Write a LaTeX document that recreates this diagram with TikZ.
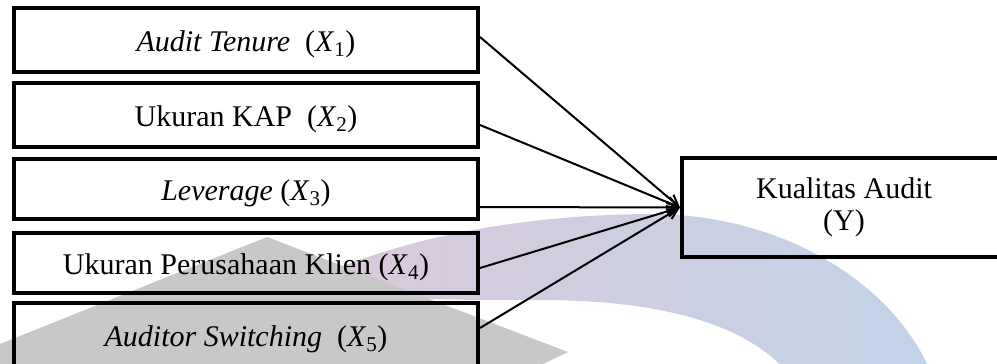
\documentclass[tikz,border=0pt]{standalone}
\usepackage{fontspec}
\setmainfont{Liberation Serif}
\usetikzlibrary{arrows.meta}
\definecolor{wmgray}{RGB}{200,200,200}
\definecolor{wmpink}{RGB}{219,200,218}
\definecolor{wmblue}{RGB}{194,211,232}
\newcommand{\xvar}[1]{\textit{X}\textsubscript{#1}}
\tikzset{
  varbox/.style={draw=black, line width=4pt, minimum width=464pt, inner sep=0pt,
    text height=28pt, text depth=6pt, font=\fontsize{30}{34}\selectfont},
  depbox/.style={draw=black, line width=4pt, minimum width=324pt, minimum height=99pt,
    inner sep=0pt, align=center, font=\fontsize{30}{32}\selectfont},
  link/.style={line width=2pt, -{Straight Barb[length=11pt,width=11pt,line width=2pt]}}
}
\begin{document}
\begin{tikzpicture}[x=1pt,y=-1pt]
\useasboundingbox (0,0) rectangle (997,364);
\clip (0,0) rectangle (997,364);
% faint background emblem
\shade[left color=wmpink, middle color=wmblue!85!wmpink, right color=wmblue]
  (300,285) .. controls (380,245) and (500,215) .. (650,214)
  .. controls (780,214) and (890,280) .. (930,370)
  -- (785,370) .. controls (740,320) and (650,300) .. (540,300)
  .. controls (430,300) and (360,300) .. (300,285) -- cycle;
\fill[wmgray] (0,344) -- (267,237) -- (568,352) -- (530,370) -- (0,370) -- cycle;
% independent variables
\node[varbox, minimum height=64pt] (x1) at (246,40) {\textit{Audit Tenure}\ \ (\xvar{1})};
\node[varbox, minimum height=64pt] (x2) at (246,115) {Ukuran KAP\ \ (\xvar{2})};
\node[varbox, minimum height=60pt] (x3) at (246,189) {\textit{Leverage} (\xvar{3})};
\node[varbox, minimum height=60pt] (x4) at (246,263) {Ukuran Perusahaan Klien (\xvar{4})};
\node[varbox, minimum height=64pt] (x5) at (246,335) {\textit{Auditor Switching}\ \ (\xvar{5})};
% dependent variable
\node[depbox] (y) at (844,207.5) {Kualitas Audit\\(Y)};
% relations
\draw[link] ([yshift=3pt]x1.east) -- (y.west);
\draw[link] ([yshift=-10pt]x2.east) -- (y.west);
\draw[link] ([yshift=-18pt]x3.east) -- (y.west);
\draw[link] ([yshift=-5pt]x4.east) -- (y.west);
\draw[link] ([yshift=7pt]x5.east) -- (y.west);
\end{tikzpicture}
\end{document}
